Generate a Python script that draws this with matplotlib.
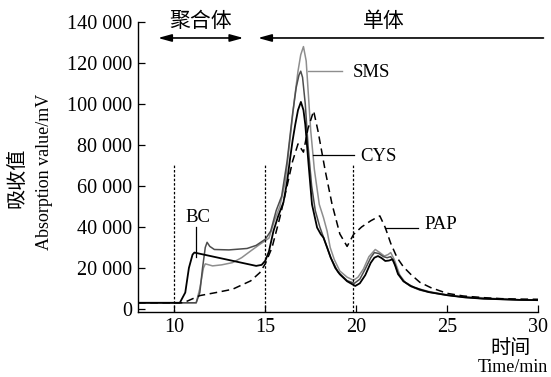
import matplotlib
matplotlib.use("Agg")
import matplotlib.pyplot as plt

# ---- data ----
bc_x = [8.0, 10.3, 10.6, 10.8, 11.0, 11.1, 14.5, 14.8, 15.0, 15.2, 15.45, 15.7, 16.0, 16.2, 16.37, 16.5, 16.65, 16.8, 16.96,
        17.1, 17.2, 17.38, 17.57, 17.85, 18.05, 18.2, 18.4, 18.6, 18.85, 19.1, 19.5, 19.95, 20.2, 20.5, 20.8, 21.0, 21.2,
        21.4, 21.6, 21.8, 22.0, 22.15, 22.3, 22.6, 23.0, 23.5, 24.0, 25.0, 26.0, 27.0, 28.0, 29.0, 30.0]
bc_y = [3000, 3000, 8000, 20000, 26500, 27500, 21000, 21500, 23500, 28000, 38000, 45000, 52000, 62000, 73700, 82000, 90000, 97000, 101000,
        97000, 90000, 70700, 51000, 39700, 36500, 34800, 30000, 25000, 20000, 16900, 13500, 11200, 12500, 16500, 22500, 25000, 25800,
        24800, 23400, 23600, 24200, 21000, 17000, 13500, 11200, 9500, 8200, 6700, 5600, 5000, 4700, 4400, 4300]

cys_x = [8.0, 11.2, 11.4, 11.55, 11.7, 11.8, 11.95, 12.2, 13.0, 14.0, 14.5, 15.0, 15.3, 15.6, 15.9, 16.2, 16.5, 16.7, 16.85, 16.95,
         17.05, 17.2, 17.35, 17.55, 17.75, 18.0, 18.2, 18.4, 18.6, 19.0, 19.5, 19.9, 20.2, 20.5, 20.8, 21.0, 21.25, 21.5,
         21.7, 21.9, 22.1, 22.3, 22.6, 23.0, 23.5, 24.0, 25.0, 26.0, 27.0, 28.0, 29.0, 30.0]
cys_y = [3000, 3000, 8000, 20000, 30000, 32500, 30500, 29000, 28800, 29500, 31000, 34000, 38000, 48000, 55000, 72000, 95000, 108000, 114000, 116000,
         113000, 100000, 80000, 60000, 48000, 40000, 35000, 30000, 25000, 18000, 13800, 12500, 14500, 19500, 25000, 27500, 27000, 25500,
         25000, 25500, 22500, 17500, 13500, 11000, 9200, 8200, 6700, 5700, 5000, 4700, 4400, 4200]

sms_x = [8.0, 11.2, 11.4, 11.6, 11.7, 12.1, 12.6, 13.2, 13.7, 14.2, 14.7, 15.2, 15.5, 15.8, 16.1, 16.4, 16.6, 16.8, 16.95, 17.1,
         17.25, 17.5, 17.7, 17.97, 18.2, 18.4, 18.57, 18.8, 19.1, 19.5, 19.85, 20.1, 20.4, 20.7, 21.05, 21.3, 21.55, 21.75,
         21.9, 22.1, 22.4, 22.7, 23.2, 24.0, 24.6, 25.5, 26.8, 28.0, 29.0, 30.0]
sms_y = [3000, 3000, 10000, 20000, 22000, 21000, 21500, 22600, 25000, 28300, 31500, 34500, 43000, 50000, 62000, 86000, 102000, 116000, 124000, 128000,
         121000, 87000, 68000, 51000, 44600, 38000, 30000, 24000, 18500, 15500, 14000, 15500, 19500, 25500, 29000, 27500, 25800, 26500,
         27500, 24000, 16500, 13000, 10400, 8500, 7500, 6200, 5500, 4900, 4500, 4200]

pap_x = [8.0, 10.5, 11.4, 12.3, 13.2, 14.2, 14.7, 15.0, 15.37, 15.8, 16.2, 16.5, 16.8, 17.1, 17.35, 17.66, 17.9, 18.3, 18.67,
         19.1, 19.5, 19.86, 20.3, 20.8, 21.3, 21.6, 21.9, 22.25, 22.6, 23.0, 23.5, 24.1, 25.0, 25.9, 27.0, 28.0, 29.0, 30.0]
pap_y = [3000, 3000, 6500, 8000, 9600, 13700, 17700, 22000, 29900, 44500, 60000, 72000, 80500, 76500, 88000, 96600, 86800, 67300, 51200,
         36600, 30500, 36400, 40000, 43000, 45400, 39700, 32000, 25000, 20500, 16900, 13000, 10400, 7600, 6300, 5500, 5000, 4800, 4700]

x_ticks = [10, 15, 20, 25, 30]
y_ticks = [0, 20000, 40000, 60000, 80000, 100000, 120000, 140000]
y_tick_labels = ["0", "20 000", "40 000", "60 000", "80 000", "100 000", "120 000", "140 000"]
boundaries = [10, 15, 19.85]

serif = ["Liberation Serif", "Noto Sans CJK SC", "DejaVu Serif"]
plt.rcParams["font.family"] = serif

fig = plt.figure(figsize=(5.51, 3.77), dpi=100)
ax = fig.add_axes([138 / 551, 1 - 312 / 377, 400 / 551, 290 / 377])

ax.plot(sms_x, sms_y, color="#8e8e8e", lw=1.1)
ax.plot(cys_x, cys_y, color="#4d4d4d", lw=1.1)
ax.plot(bc_x, bc_y, color="black", lw=1.3)
ax.plot(pap_x, pap_y, color="black", lw=1.1, ls=(0, (5, 3)))

for b in boundaries:
    ax.plot([b, b], [-1500, 70000], color="black", lw=0.9, ls=(0, (2, 1.5)))

ax.set_xlim(8, 30)
ax.set_ylim(-1500, 140000)
ax.set_xticks(x_ticks)
ax.set_xticklabels([str(t) for t in x_ticks])
ax.set_yticks(y_ticks)
ax.set_yticklabels(y_tick_labels)
ax.tick_params(direction="in", length=5, width=0.9, labelsize=14.5, pad=4)
for s in ["top", "right"]:
    ax.spines[s].set_visible(False)
for s in ["left", "bottom"]:
    ax.spines[s].set_linewidth(1.0)

# series labels with leader lines
ax.text(11.3, 44400, "BC", fontsize=13.5, ha="center", va="center")
ax.plot([11.2, 11.2], [40000, 25500], color="black", lw=0.9)
ax.text(20.85, 115500, "SMS", fontsize=13.5, ha="center", va="center")
ax.plot([17.37, 19.24], [116300, 116300], color="#8e8e8e", lw=1.0)
ax.text(21.25, 74600, "CYS", fontsize=13.5, ha="center", va="center")
ax.plot([17.64, 19.9], [75100, 75100], color="black", lw=0.9)
ax.text(24.65, 41000, "PAP", fontsize=13.5, ha="center", va="center")
ax.plot([21.6, 23.4], [39700, 39700], color="black", lw=0.9)

# region arrows
ax.annotate("", xy=(9.1, 132200), xytext=(13.8, 132200),
            arrowprops=dict(arrowstyle="<|-|>,head_length=0.8,head_width=0.22", color="black", lw=1.2,
                            shrinkA=0, shrinkB=0), annotation_clip=False)
ax.annotate("", xy=(14.6, 132200), xytext=(30.3, 132200),
            arrowprops=dict(arrowstyle="-|>,head_length=0.8,head_width=0.22", color="black", lw=1.2,
                            shrinkA=0, shrinkB=0), annotation_clip=False)
ax.text(11.45, 140000, "聚合体", fontsize=15, ha="center", va="center")
ax.text(21.5, 140000, "单体", fontsize=15, ha="center", va="center")

# axis titles
fig.text(18 / 551, 1 - 178 / 377, "吸收值", rotation=90, fontsize=14.5, ha="center", va="center")
fig.text(45 / 551, 1 - 172 / 377, "Absorption value/mV", rotation=90, fontsize=13, ha="center", va="center")
fig.text(531 / 551, 1 - 350 / 377, "时间", fontsize=14.5, ha="right", va="center")
fig.text(548 / 551, 1 - 368 / 377, "Time/min", fontsize=13, ha="right", va="center")

fig.savefig("out.png", dpi=100)
